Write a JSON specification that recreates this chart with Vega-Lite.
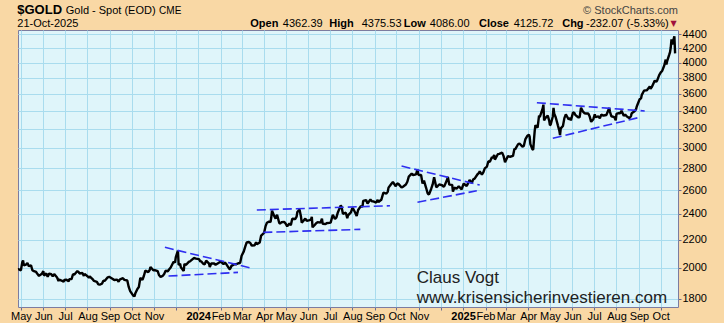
{
"$schema": "https://vega.github.io/schema/vega-lite/v6.json",
"width": 660, "height": 277,
"autosize": {"type": "none"},
"padding": {"left": 18, "top": 30, "right": 46, "bottom": 16},
"background": "#f9d8a5",
"config": {
  "font": "Liberation Sans",
  "view": {"fill": "#dff5fa", "stroke": "#7c7ca0", "strokeWidth": 1},
  "axis": {"domain": false, "gridColor": "#a9dcee", "gridWidth": 1, "gridOpacity": 1, "tickColor": "#6a6a90", "tickSize": 3, "labelFont": "Liberation Sans", "labelFontSize": 11, "labelColor": "#000000", "labelOverlap": false, "labelFlush": false, "labelBound": false}
},
"datasets": {
"price": [
{"d":"2023-04-27","p":1989},{"d":"2023-04-28","p":1990},{"d":"2023-05-01","p":1983},{"d":"2023-05-03","p":2040},{"d":"2023-05-04","p":2050},{"d":"2023-05-05","p":2017},{"d":"2023-05-08","p":2022},{"d":"2023-05-10","p":2032},{"d":"2023-05-12","p":2011},{"d":"2023-05-15","p":2016},{"d":"2023-05-17","p":1982},{"d":"2023-05-19","p":1978},{"d":"2023-05-22","p":1972},{"d":"2023-05-24","p":1958},{"d":"2023-05-26","p":1946},{"d":"2023-05-30","p":1960},{"d":"2023-06-01","p":1978},{"d":"2023-06-02","p":1948},{"d":"2023-06-05","p":1962},{"d":"2023-06-07","p":1941},{"d":"2023-06-09","p":1961},{"d":"2023-06-12","p":1957},{"d":"2023-06-14","p":1943},{"d":"2023-06-16","p":1958},{"d":"2023-06-20","p":1936},{"d":"2023-06-22","p":1913},{"d":"2023-06-23","p":1921},{"d":"2023-06-27","p":1914},{"d":"2023-06-29","p":1908},{"d":"2023-06-30","p":1919},
{"d":"2023-07-03","p":1921},{"d":"2023-07-06","p":1911},{"d":"2023-07-07","p":1925},{"d":"2023-07-10","p":1925},{"d":"2023-07-12","p":1957},{"d":"2023-07-14","p":1955},{"d":"2023-07-18","p":1978},{"d":"2023-07-20","p":1970},{"d":"2023-07-21","p":1962},{"d":"2023-07-25","p":1965},{"d":"2023-07-27","p":1946},{"d":"2023-07-28","p":1959},{"d":"2023-08-01","p":1944},{"d":"2023-08-03","p":1934},{"d":"2023-08-04","p":1943},{"d":"2023-08-08","p":1925},{"d":"2023-08-10","p":1913},{"d":"2023-08-14","p":1907},{"d":"2023-08-16","p":1891},{"d":"2023-08-18","p":1889},{"d":"2023-08-21","p":1895},{"d":"2023-08-23","p":1915},{"d":"2023-08-25","p":1914},{"d":"2023-08-29","p":1937},{"d":"2023-08-31","p":1940},{"d":"2023-09-05","p":1926},{"d":"2023-09-07","p":1919},{"d":"2023-09-11","p":1922},{"d":"2023-09-13","p":1908},{"d":"2023-09-15","p":1924},{"d":"2023-09-19","p":1931},{"d":"2023-09-21","p":1920},{"d":"2023-09-25","p":1916},{"d":"2023-09-27","p":1875},{"d":"2023-09-29","p":1849},
{"d":"2023-10-03","p":1822},{"d":"2023-10-05","p":1816},{"d":"2023-10-06","p":1833},{"d":"2023-10-09","p":1862},{"d":"2023-10-11","p":1874},{"d":"2023-10-13","p":1932},{"d":"2023-10-16","p":1920},{"d":"2023-10-18","p":1947},{"d":"2023-10-20","p":1981},{"d":"2023-10-24","p":1971},{"d":"2023-10-26","p":1985},{"d":"2023-10-27","p":2006},{"d":"2023-10-31","p":1983},{"d":"2023-11-02","p":1985},{"d":"2023-11-06","p":1978},{"d":"2023-11-08","p":1950},{"d":"2023-11-10","p":1940},{"d":"2023-11-13","p":1946},{"d":"2023-11-15","p":1959},{"d":"2023-11-17","p":1980},{"d":"2023-11-20","p":1977},{"d":"2023-11-22","p":1990},{"d":"2023-11-24","p":2002},{"d":"2023-11-28","p":2041},{"d":"2023-11-30","p":2036},{"d":"2023-12-01","p":2072},{"d":"2023-12-04","p":2120},{"d":"2023-12-05","p":2019},{"d":"2023-12-07","p":2028},{"d":"2023-12-08","p":2004},{"d":"2023-12-12","p":1979},{"d":"2023-12-13","p":2027},{"d":"2023-12-15","p":2019},{"d":"2023-12-19","p":2040},{"d":"2023-12-21","p":2045},{"d":"2023-12-26","p":2067},{"d":"2023-12-28","p":2065},{"d":"2023-12-29","p":2063},
{"d":"2024-01-02","p":2059},{"d":"2024-01-04","p":2043},{"d":"2024-01-05","p":2045},{"d":"2024-01-08","p":2027},{"d":"2024-01-10","p":2024},{"d":"2024-01-12","p":2049},{"d":"2024-01-16","p":2028},{"d":"2024-01-17","p":2006},{"d":"2024-01-19","p":2029},{"d":"2024-01-23","p":2029},{"d":"2024-01-25","p":2021},{"d":"2024-01-29","p":2033},{"d":"2024-01-31","p":2039},{"d":"2024-02-02","p":2039},{"d":"2024-02-05","p":2025},{"d":"2024-02-07","p":2035},{"d":"2024-02-09","p":2024},{"d":"2024-02-13","p":1992},{"d":"2024-02-14","p":1992},{"d":"2024-02-16","p":2013},{"d":"2024-02-20","p":2025},{"d":"2024-02-22","p":2024},{"d":"2024-02-26","p":2031},{"d":"2024-02-28","p":2034},{"d":"2024-03-01","p":2083},{"d":"2024-03-04","p":2114},{"d":"2024-03-06","p":2148},{"d":"2024-03-08","p":2179},{"d":"2024-03-11","p":2182},{"d":"2024-03-13","p":2175},{"d":"2024-03-15","p":2155},{"d":"2024-03-19","p":2158},{"d":"2024-03-21","p":2181},{"d":"2024-03-22","p":2165},{"d":"2024-03-26","p":2178},{"d":"2024-03-28","p":2230},
{"d":"2024-04-01","p":2250},{"d":"2024-04-03","p":2300},{"d":"2024-04-05","p":2329},{"d":"2024-04-08","p":2339},{"d":"2024-04-10","p":2333},{"d":"2024-04-11","p":2372},{"d":"2024-04-12","p":2425},{"d":"2024-04-15","p":2383},{"d":"2024-04-17","p":2361},{"d":"2024-04-19","p":2392},{"d":"2024-04-22","p":2327},{"d":"2024-04-23","p":2322},{"d":"2024-04-25","p":2332},{"d":"2024-04-29","p":2335},{"d":"2024-05-01","p":2320},{"d":"2024-05-03","p":2301},{"d":"2024-05-06","p":2322},{"d":"2024-05-08","p":2310},{"d":"2024-05-10","p":2360},{"d":"2024-05-14","p":2358},{"d":"2024-05-16","p":2377},{"d":"2024-05-17","p":2415},{"d":"2024-05-20","p":2435},{"d":"2024-05-22","p":2379},{"d":"2024-05-23","p":2329},{"d":"2024-05-24","p":2334},{"d":"2024-05-28","p":2361},{"d":"2024-05-30","p":2343},{"d":"2024-06-03","p":2350},{"d":"2024-06-05","p":2355},{"d":"2024-06-06","p":2376},{"d":"2024-06-07","p":2293},{"d":"2024-06-10","p":2311},{"d":"2024-06-12","p":2325},{"d":"2024-06-14","p":2333},{"d":"2024-06-18","p":2329},{"d":"2024-06-20","p":2360},{"d":"2024-06-21","p":2321},{"d":"2024-06-25","p":2319},{"d":"2024-06-27","p":2327},{"d":"2024-06-28","p":2326},
{"d":"2024-07-02","p":2330},{"d":"2024-07-05","p":2392},{"d":"2024-07-08","p":2358},{"d":"2024-07-10","p":2371},{"d":"2024-07-12","p":2411},{"d":"2024-07-16","p":2469},{"d":"2024-07-17","p":2459},{"d":"2024-07-19","p":2400},{"d":"2024-07-23","p":2409},{"d":"2024-07-25","p":2364},{"d":"2024-07-26","p":2387},{"d":"2024-07-30","p":2411},{"d":"2024-08-01","p":2446},{"d":"2024-08-02","p":2443},{"d":"2024-08-05","p":2409},{"d":"2024-08-07","p":2382},{"d":"2024-08-09","p":2431},{"d":"2024-08-13","p":2465},{"d":"2024-08-15","p":2456},{"d":"2024-08-16","p":2507},{"d":"2024-08-20","p":2514},{"d":"2024-08-22","p":2485},{"d":"2024-08-26","p":2518},{"d":"2024-08-28","p":2504},{"d":"2024-08-30","p":2503},{"d":"2024-09-03","p":2493},{"d":"2024-09-05","p":2516},{"d":"2024-09-06","p":2497},{"d":"2024-09-10","p":2516},{"d":"2024-09-12","p":2558},{"d":"2024-09-13","p":2577},{"d":"2024-09-17","p":2569},{"d":"2024-09-19","p":2587},{"d":"2024-09-20","p":2622},{"d":"2024-09-24","p":2657},{"d":"2024-09-26","p":2672},{"d":"2024-09-30","p":2634},
{"d":"2024-10-02","p":2659},{"d":"2024-10-04","p":2653},{"d":"2024-10-08","p":2622},{"d":"2024-10-10","p":2630},{"d":"2024-10-14","p":2649},{"d":"2024-10-16","p":2674},{"d":"2024-10-18","p":2721},{"d":"2024-10-22","p":2748},{"d":"2024-10-24","p":2736},{"d":"2024-10-28","p":2742},{"d":"2024-10-30","p":2788},{"d":"2024-10-31","p":2744},{"d":"2024-11-01","p":2736},{"d":"2024-11-04","p":2736},{"d":"2024-11-06","p":2659},{"d":"2024-11-08","p":2685},{"d":"2024-11-11","p":2618},{"d":"2024-11-13","p":2572},{"d":"2024-11-14","p":2565},{"d":"2024-11-15","p":2562},{"d":"2024-11-18","p":2612},{"d":"2024-11-20","p":2650},{"d":"2024-11-22","p":2715},{"d":"2024-11-25","p":2625},{"d":"2024-11-27","p":2636},{"d":"2024-11-29","p":2650},{"d":"2024-12-03","p":2643},{"d":"2024-12-05","p":2632},{"d":"2024-12-06","p":2633},{"d":"2024-12-10","p":2694},{"d":"2024-12-11","p":2718},{"d":"2024-12-13","p":2648},{"d":"2024-12-17","p":2646},{"d":"2024-12-18","p":2587},{"d":"2024-12-20","p":2622},{"d":"2024-12-23","p":2612},{"d":"2024-12-26","p":2634},{"d":"2024-12-30","p":2606},{"d":"2024-12-31","p":2625},
{"d":"2025-01-02","p":2658},{"d":"2025-01-06","p":2636},{"d":"2025-01-08","p":2662},{"d":"2025-01-10","p":2690},{"d":"2025-01-13","p":2662},{"d":"2025-01-15","p":2696},{"d":"2025-01-17","p":2702},{"d":"2025-01-21","p":2743},{"d":"2025-01-23","p":2754},{"d":"2025-01-24","p":2770},{"d":"2025-01-27","p":2740},{"d":"2025-01-29","p":2760},{"d":"2025-01-31","p":2798},{"d":"2025-02-03","p":2815},{"d":"2025-02-05","p":2866},{"d":"2025-02-07","p":2861},{"d":"2025-02-10","p":2908},{"d":"2025-02-11","p":2897},{"d":"2025-02-13","p":2928},{"d":"2025-02-14","p":2882},{"d":"2025-02-18","p":2935},{"d":"2025-02-20","p":2939},{"d":"2025-02-24","p":2951},{"d":"2025-02-26","p":2916},{"d":"2025-02-28","p":2857},{"d":"2025-03-04","p":2917},{"d":"2025-03-06","p":2911},{"d":"2025-03-07","p":2910},{"d":"2025-03-11","p":2918},{"d":"2025-03-13","p":2989},{"d":"2025-03-14","p":2984},{"d":"2025-03-18","p":3035},{"d":"2025-03-20","p":3043},{"d":"2025-03-24","p":3011},{"d":"2025-03-26","p":3019},{"d":"2025-03-28","p":3085},{"d":"2025-03-31","p":3124},
{"d":"2025-04-02","p":3134},{"d":"2025-04-03","p":3114},{"d":"2025-04-04","p":3037},{"d":"2025-04-07","p":2982},{"d":"2025-04-08","p":2983},{"d":"2025-04-09","p":3083},{"d":"2025-04-10","p":3176},{"d":"2025-04-11","p":3237},{"d":"2025-04-14","p":3211},{"d":"2025-04-16","p":3343},{"d":"2025-04-17","p":3327},{"d":"2025-04-21","p":3425},{"d":"2025-04-22","p":3470},{"d":"2025-04-23","p":3289},{"d":"2025-04-25","p":3319},{"d":"2025-04-28","p":3343},{"d":"2025-04-30","p":3288},{"d":"2025-05-01","p":3239},{"d":"2025-05-02","p":3241},{"d":"2025-05-05","p":3334},{"d":"2025-05-06","p":3431},{"d":"2025-05-07","p":3364},{"d":"2025-05-09","p":3325},{"d":"2025-05-12","p":3235},{"d":"2025-05-14","p":3178},{"d":"2025-05-15","p":3130},{"d":"2025-05-16","p":3202},{"d":"2025-05-19","p":3229},{"d":"2025-05-21","p":3315},{"d":"2025-05-23","p":3357},{"d":"2025-05-27","p":3300},{"d":"2025-05-29","p":3317},{"d":"2025-05-30","p":3289},{"d":"2025-06-02","p":3380},{"d":"2025-06-04","p":3372},{"d":"2025-06-05","p":3352},{"d":"2025-06-09","p":3325},{"d":"2025-06-11","p":3323},{"d":"2025-06-13","p":3433},{"d":"2025-06-16","p":3385},{"d":"2025-06-18","p":3370},{"d":"2025-06-20","p":3368},{"d":"2025-06-23","p":3368},{"d":"2025-06-25","p":3332},{"d":"2025-06-27","p":3274},{"d":"2025-06-30","p":3303},
{"d":"2025-07-02","p":3357},{"d":"2025-07-03","p":3326},{"d":"2025-07-07","p":3335},{"d":"2025-07-09","p":3313},{"d":"2025-07-11","p":3355},{"d":"2025-07-14","p":3343},{"d":"2025-07-16","p":3347},{"d":"2025-07-18","p":3350},{"d":"2025-07-22","p":3431},{"d":"2025-07-23","p":3387},{"d":"2025-07-25","p":3336},{"d":"2025-07-29","p":3326},{"d":"2025-07-31","p":3290},{"d":"2025-08-01","p":3362},{"d":"2025-08-04","p":3373},{"d":"2025-08-06","p":3368},{"d":"2025-08-08","p":3398},{"d":"2025-08-11","p":3342},{"d":"2025-08-13","p":3355},{"d":"2025-08-15","p":3336},{"d":"2025-08-19","p":3315},{"d":"2025-08-21","p":3338},{"d":"2025-08-22","p":3371},{"d":"2025-08-26","p":3393},{"d":"2025-08-28","p":3415},{"d":"2025-08-29","p":3448},{"d":"2025-09-02","p":3533},{"d":"2025-09-04","p":3545},{"d":"2025-09-05","p":3586},{"d":"2025-09-08","p":3636},{"d":"2025-09-10","p":3641},{"d":"2025-09-12","p":3643},{"d":"2025-09-16","p":3690},{"d":"2025-09-17","p":3660},{"d":"2025-09-19","p":3685},{"d":"2025-09-22","p":3746},{"d":"2025-09-23","p":3763},{"d":"2025-09-25","p":3749},{"d":"2025-09-26","p":3760},{"d":"2025-09-29","p":3833},{"d":"2025-10-01","p":3865},{"d":"2025-10-03","p":3886},{"d":"2025-10-06","p":3960},{"d":"2025-10-08","p":4040},{"d":"2025-10-09","p":3975},{"d":"2025-10-10","p":4018},{"d":"2025-10-13","p":4110},{"d":"2025-10-14","p":4142},{"d":"2025-10-15","p":4208},{"d":"2025-10-16","p":4326},{"d":"2025-10-17","p":4251},{"d":"2025-10-20","p":4370},{"d":"2025-10-21","p":4125}
],
"trend": [
{"seg":"A1","d":"2023-11-16","p":2143},{"seg":"A1","d":"2024-03-16","p":1996},
{"seg":"A2","d":"2023-11-21","p":1945},{"seg":"A2","d":"2024-02-25","p":1969},
{"seg":"B1","d":"2024-03-22","p":2431},{"seg":"B1","d":"2024-09-22","p":2466},
{"seg":"B2","d":"2024-03-31","p":2254},{"seg":"B2","d":"2024-08-12","p":2277},
{"seg":"C1","d":"2024-10-08","p":2820},{"seg":"C1","d":"2025-01-24","p":2645},
{"seg":"C2","d":"2024-10-30","p":2495},{"seg":"C2","d":"2025-01-20","p":2594},
{"seg":"D1","d":"2025-04-13","p":3492},{"seg":"D1","d":"2025-09-09","p":3396},
{"seg":"D2","d":"2025-05-05","p":3097},{"seg":"D2","d":"2025-09-02","p":3324}
]
},
"layer": [
{"data": {"name": "price"},
 "mark": {"type": "line", "color": "#000000", "strokeWidth": 2.4, "strokeJoin": "bevel"},
 "encoding": {
  "x": {"field": "d", "type": "temporal",
        "scale": {"type": "utc", "domain": [{"year":2023,"month":4,"date":27,"utc":true},{"year":2025,"month":10,"date":25,"utc":true}], "nice": false},
        "axis": {"orient": "bottom", "title": null, "grid": true, "tickSize": 3, "labelPadding": 0, "labelOverlap": false, "labelFlush": false, "labelBound": false,
          "tickCount": {"interval": "month", "step": 1},
          "labelExpr": "utcmonth(datum.value) == 0 ? utcFormat(datum.value, '%Y') : (utcmonth(datum.value) == 11 ? '' : utcFormat(datum.value, '%b'))",
          "labelFontWeight": {"condition": {"test": "utcmonth(datum.value) == 0", "value": "bold"}, "value": "normal"}}},
  "y": {"field": "p", "type": "quantitative",
        "scale": {"type": "log", "domain": [1752, 4464], "nice": false, "zero": false},
        "axis": {"orient": "right", "title": null, "grid": true, "labelOverlap": false, "labelFlush": false, "values": [1800,2000,2200,2400,2600,2800,3000,3200,3400,3600,3800,4000,4200,4400], "format": "d", "labelPadding": 1, "tickSize": 3}}
 }},
{"data": {"name": "trend"},
 "mark": {"type": "line", "color": "#2e2ef0", "strokeWidth": 1.6, "strokeDash": [9, 4]},
 "encoding": {
  "x": {"field": "d", "type": "temporal", "axis": {"title": null, "labelOverlap": false, "labelFlush": false}},
  "y": {"field": "p", "type": "quantitative", "axis": {"title": null, "labelOverlap": false, "labelFlush": false}},
  "detail": {"field": "seg"}
 }},
{"data": {"values": [{}]}, "mark": {"type": "text", "text": "$GOLD", "align": "left", "baseline": "alphabetic", "fontSize": 13, "fontWeight": "bold", "color": "#000000"},
 "encoding": {"x": {"datum": {"year":2023,"month":4,"date":26,"utc":true}, "type": "temporal", "axis": {"title": null, "labelOverlap": false, "labelFlush": false}}, "y": {"datum": 4712, "type": "quantitative", "axis": {"title": null, "labelOverlap": false, "labelFlush": false}}}},
{"data": {"values": [{}]}, "mark": {"type": "text", "text": "Gold - Spot (EOD)", "align": "left", "baseline": "alphabetic", "fontSize": 11, "color": "#000000"},
 "encoding": {"x": {"datum": {"year":2023,"month":7,"date":2,"utc":true}, "type": "temporal", "axis": {"title": null, "labelOverlap": false, "labelFlush": false}}, "y": {"datum": 4712, "type": "quantitative", "axis": {"title": null, "labelOverlap": false, "labelFlush": false}}}},
{"data": {"values": [{}]}, "mark": {"type": "text", "text": "CME", "align": "left", "baseline": "alphabetic", "fontSize": 10, "color": "#000000"},
 "encoding": {"x": {"datum": {"year":2023,"month":11,"date":8,"utc":true}, "type": "temporal", "axis": {"title": null, "labelOverlap": false, "labelFlush": false}}, "y": {"datum": 4712, "type": "quantitative", "axis": {"title": null, "labelOverlap": false, "labelFlush": false}}}},
{"data": {"values": [{}]}, "mark": {"type": "text", "text": "© StockCharts.com", "align": "right", "baseline": "alphabetic", "fontSize": 11, "color": "#444444"},
 "encoding": {"x": {"datum": {"year":2025,"month":10,"date":25,"utc":true}, "type": "temporal", "axis": {"title": null, "labelOverlap": false, "labelFlush": false}}, "y": {"datum": 4712, "type": "quantitative", "axis": {"title": null, "labelOverlap": false, "labelFlush": false}}}},
{"data": {"values": [{}]}, "mark": {"type": "text", "text": "21-Oct-2025", "align": "left", "baseline": "alphabetic", "fontSize": 11, "color": "#000000"},
 "encoding": {"x": {"datum": {"year":2023,"month":4,"date":26,"utc":true}, "type": "temporal", "axis": {"title": null, "labelOverlap": false, "labelFlush": false}}, "y": {"datum": 4514, "type": "quantitative", "axis": {"title": null, "labelOverlap": false, "labelFlush": false}}}},
{"data": {"values": [{}]}, "mark": {"type": "text", "text": "Open", "align": "left", "baseline": "alphabetic", "fontSize": 11, "fontWeight": "bold", "color": "#000000"},
 "encoding": {"x": {"datum": {"year":2024,"month":3,"date":13,"utc":true}, "type": "temporal", "axis": {"title": null, "labelOverlap": false, "labelFlush": false}}, "y": {"datum": 4514, "type": "quantitative", "axis": {"title": null, "labelOverlap": false, "labelFlush": false}}}},
{"data": {"values": [{}]}, "mark": {"type": "text", "text": "4362.39", "align": "left", "baseline": "alphabetic", "fontSize": 11, "color": "#000000"},
 "encoding": {"x": {"datum": {"year":2024,"month":4,"date":27,"utc":true}, "type": "temporal", "axis": {"title": null, "labelOverlap": false, "labelFlush": false}}, "y": {"datum": 4514, "type": "quantitative", "axis": {"title": null, "labelOverlap": false, "labelFlush": false}}}},
{"data": {"values": [{}]}, "mark": {"type": "text", "text": "High", "align": "left", "baseline": "alphabetic", "fontSize": 11, "fontWeight": "bold", "color": "#000000"},
 "encoding": {"x": {"datum": {"year":2024,"month":6,"date":30,"utc":true}, "type": "temporal", "axis": {"title": null, "labelOverlap": false, "labelFlush": false}}, "y": {"datum": 4514, "type": "quantitative", "axis": {"title": null, "labelOverlap": false, "labelFlush": false}}}},
{"data": {"values": [{}]}, "mark": {"type": "text", "text": "4375.53", "align": "left", "baseline": "alphabetic", "fontSize": 11, "color": "#000000"},
 "encoding": {"x": {"datum": {"year":2024,"month":8,"date":14,"utc":true}, "type": "temporal", "axis": {"title": null, "labelOverlap": false, "labelFlush": false}}, "y": {"datum": 4514, "type": "quantitative", "axis": {"title": null, "labelOverlap": false, "labelFlush": false}}}},
{"data": {"values": [{}]}, "mark": {"type": "text", "text": "Low", "align": "left", "baseline": "alphabetic", "fontSize": 11, "fontWeight": "bold", "color": "#000000"},
 "encoding": {"x": {"datum": {"year":2024,"month":10,"date":11,"utc":true}, "type": "temporal", "axis": {"title": null, "labelOverlap": false, "labelFlush": false}}, "y": {"datum": 4514, "type": "quantitative", "axis": {"title": null, "labelOverlap": false, "labelFlush": false}}}},
{"data": {"values": [{}]}, "mark": {"type": "text", "text": "4086.00", "align": "left", "baseline": "alphabetic", "fontSize": 11, "color": "#000000"},
 "encoding": {"x": {"datum": {"year":2024,"month":11,"date":16,"utc":true}, "type": "temporal", "axis": {"title": null, "labelOverlap": false, "labelFlush": false}}, "y": {"datum": 4514, "type": "quantitative", "axis": {"title": null, "labelOverlap": false, "labelFlush": false}}}},
{"data": {"values": [{}]}, "mark": {"type": "text", "text": "Close", "align": "left", "baseline": "alphabetic", "fontSize": 11, "fontWeight": "bold", "color": "#000000"},
 "encoding": {"x": {"datum": {"year":2025,"month":1,"date":23,"utc":true}, "type": "temporal", "axis": {"title": null, "labelOverlap": false, "labelFlush": false}}, "y": {"datum": 4514, "type": "quantitative", "axis": {"title": null, "labelOverlap": false, "labelFlush": false}}}},
{"data": {"values": [{}]}, "mark": {"type": "text", "text": "4125.72", "align": "left", "baseline": "alphabetic", "fontSize": 11, "color": "#000000"},
 "encoding": {"x": {"datum": {"year":2025,"month":3,"date":12,"utc":true}, "type": "temporal", "axis": {"title": null, "labelOverlap": false, "labelFlush": false}}, "y": {"datum": 4514, "type": "quantitative", "axis": {"title": null, "labelOverlap": false, "labelFlush": false}}}},
{"data": {"values": [{}]}, "mark": {"type": "text", "text": "Chg", "align": "left", "baseline": "alphabetic", "fontSize": 11, "fontWeight": "bold", "color": "#000000"},
 "encoding": {"x": {"datum": {"year":2025,"month":5,"date":18,"utc":true}, "type": "temporal", "axis": {"title": null, "labelOverlap": false, "labelFlush": false}}, "y": {"datum": 4514, "type": "quantitative", "axis": {"title": null, "labelOverlap": false, "labelFlush": false}}}},
{"data": {"values": [{}]}, "mark": {"type": "text", "text": "-232.07 (-5.33%)", "align": "left", "baseline": "alphabetic", "fontSize": 11, "color": "#000000"},
 "encoding": {"x": {"datum": {"year":2025,"month":6,"date":20,"utc":true}, "type": "temporal", "axis": {"title": null, "labelOverlap": false, "labelFlush": false}}, "y": {"datum": 4514, "type": "quantitative", "axis": {"title": null, "labelOverlap": false, "labelFlush": false}}}},
{"data": {"values": [{}]}, "mark": {"type": "text", "text": "▼", "align": "center", "baseline": "alphabetic", "fontSize": 8, "font": "DejaVu Sans", "color": "#a0103c"},
 "encoding": {"x": {"datum": {"year":2025,"month":10,"date":19,"utc":true}, "type": "temporal", "axis": {"title": null, "labelOverlap": false, "labelFlush": false}}, "y": {"datum": 4530, "type": "quantitative", "axis": {"title": null, "labelOverlap": false, "labelFlush": false}}}},
{"data": {"values": [{}]}, "mark": {"type": "text", "text": "Claus Vogt", "align": "left", "baseline": "alphabetic", "fontSize": 17, "color": "#222222"},
 "encoding": {"x": {"datum": {"year":2024,"month":10,"date":29,"utc":true}, "type": "temporal", "axis": {"title": null, "labelOverlap": false, "labelFlush": false}}, "y": {"datum": 1903, "type": "quantitative", "axis": {"title": null, "labelOverlap": false, "labelFlush": false}}}},
{"data": {"values": [{}]}, "mark": {"type": "text", "text": "www.krisensicherinvestieren.com", "align": "left", "baseline": "alphabetic", "fontSize": 17, "color": "#222222"},
 "encoding": {"x": {"datum": {"year":2024,"month":10,"date":29,"utc":true}, "type": "temporal", "axis": {"title": null, "labelOverlap": false, "labelFlush": false}}, "y": {"datum": 1775, "type": "quantitative", "axis": {"title": null, "labelOverlap": false, "labelFlush": false}}}}
]
}
